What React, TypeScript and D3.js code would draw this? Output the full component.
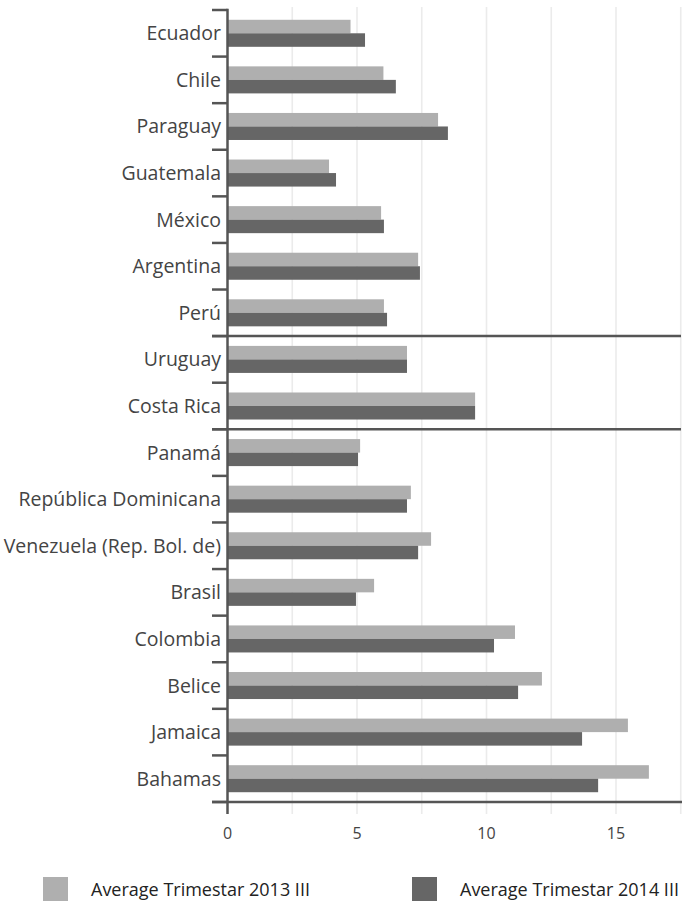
import React from "react";
import * as d3 from "d3";

const categories = [
  "Ecuador", "Chile", "Paraguay", "Guatemala", "México", "Argentina", "Perú",
  "Uruguay", "Costa Rica", "Panamá", "República Dominicana",
  "Venezuela (Rep. Bol. de)", "Brasil", "Colombia", "Belice", "Jamaica", "Bahamas",
];
const series2013 = [4.75, 6.02, 8.13, 3.92, 5.93, 7.36, 6.04, 6.93, 9.56, 5.12, 7.08, 7.86, 5.66, 11.1, 12.14, 15.46, 16.27];
const series2014 = [5.31, 6.5, 8.51, 4.19, 6.04, 7.43, 6.16, 6.93, 9.56, 5.04, 6.93, 7.36, 4.96, 10.29, 11.22, 13.69, 14.31];
const seriesNames = ["Average Trimestar 2013 III", "Average Trimestar 2014 III"];
const xTickLabels = [0, 5, 10, 15];
const gridValues = [2.5, 5, 7.5, 10, 12.5, 15, 17.5];
const separatorAfter = [7, 9];

const COLORS = ["#afafaf", "#666666"];
const AXIS = "#555555";
const FONT = "'Open Sans', 'DejaVu Sans', sans-serif";

export default function App() {
  const W = 687, H = 914;
  const x0 = 227.5;
  const x = d3.scaleLinear().domain([0, 17.5]).range([x0, 680.75]);
  const y = d3.scaleBand<string>().domain(categories).range([10, 802]).paddingInner(0.42).paddingOuter(0.21);
  const sub = d3.scaleBand<string>().domain(seriesNames).range([0, y.bandwidth()]).padding(0);
  const step = y.step();
  const boundary = (i: number) => 10 + i * step;
  const data = categories.map((c, i) => ({ c, v: [series2013[i], series2014[i]] }));

  return (
    <svg width={W} height={H} style={{ position: "absolute", left: 0, top: 0, display: "block" }}>
      <rect width={W} height={H} fill="#fff" />
      {gridValues.map((g) => (
        <line key={g} x1={x(g)} x2={x(g)} y1={7} y2={814} stroke="#ebebeb" strokeWidth={1.6} />
      ))}
      {data.map((d) =>
        d.v.map((v, k) => (
          <rect
            key={d.c + k}
            x={x(0)}
            y={(y(d.c) as number) + (sub(seriesNames[k]) as number)}
            width={x(v) - x(0)}
            height={sub.bandwidth()}
            fill={COLORS[k]}
          />
        ))
      )}
      {d3.range(0, categories.length + 1).map((i) => (
        <line key={"t" + i} x1={212} x2={x0} y1={boundary(i)} y2={boundary(i)} stroke={AXIS} strokeWidth={2.5} />
      ))}
      {separatorAfter.map((i) => (
        <line key={"s" + i} x1={212} x2={681} y1={boundary(i)} y2={boundary(i)} stroke={AXIS} strokeWidth={2.5} />
      ))}
      <line x1={212} x2={682} y1={boundary(categories.length)} y2={boundary(categories.length)} stroke={AXIS} strokeWidth={2.5} />
      <line x1={x0} x2={x0} y1={8.75} y2={814} stroke={AXIS} strokeWidth={2.5} />
      {categories.map((c) => (
        <text
          key={c}
          x={221}
          y={(y(c) as number) + y.bandwidth() / 2}
          dy="0.36em"
          textAnchor="end"
          fontFamily={FONT}
          fontSize={19.5}
          fill="#444"
        >
          {c}
        </text>
      ))}
      {xTickLabels.map((t) => (
        <text key={t} x={x(t)} y={839} textAnchor="middle" fontFamily={FONT} fontSize={16} fill="#444">
          {t}
        </text>
      ))}
      {seriesNames.map((n, k) => (
        <g key={n}>
          <rect x={k === 0 ? 43 : 412} y={877} width={25} height={24} fill={COLORS[k]} />
          <text x={k === 0 ? 91 : 460} y={896} fontFamily={FONT} fontSize={18} fill="#222">
            {n}
          </text>
        </g>
      ))}
    </svg>
  );
}
